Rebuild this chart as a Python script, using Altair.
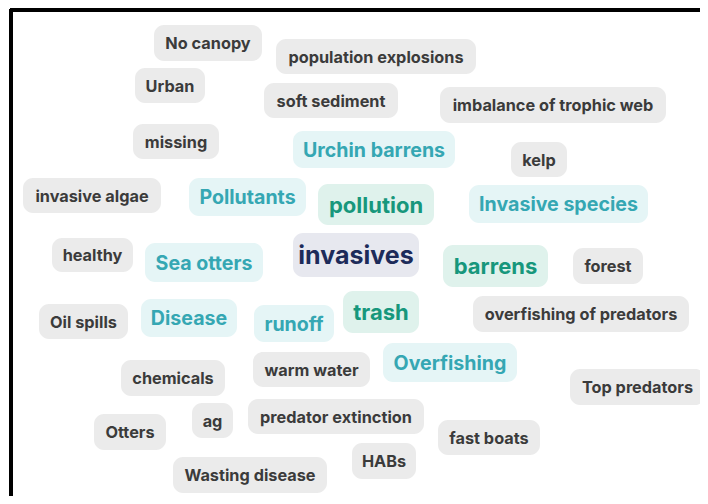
import altair as alt
import pandas as pd

# words and their groups (group = frequency tier)
words = ["No canopy", "population explosions", "Urban", "soft sediment", "imbalance of trophic web",
         "missing", "Urchin barrens", "kelp", "invasive algae", "Pollutants", "pollution",
         "Invasive species", "healthy", "Sea otters", "invasives", "barrens", "forest",
         "Oil spills", "Disease", "runoff", "trash", "overfishing of predators", "chemicals",
         "warm water", "Overfishing", "Top predators", "Otters", "ag", "predator extinction",
         "fast boats", "HABs", "Wasting disease"]
tiers = ["low", "low", "low", "low", "low",
         "low", "mid", "low", "low", "mid", "high",
         "mid", "low", "mid", "top", "high", "low",
         "low", "mid", "mid", "high", "low", "low",
         "low", "mid", "low", "low", "low", "low",
         "low", "low", "low"]

# layout of the cloud (pixel positions of each tag box: left, right, top, bottom)
box_left = [154, 276, 135, 264, 440, 133, 293, 511, 23, 189, 318, 469, 52, 145, 293, 443, 573,
            39, 141, 254, 343, 473, 121, 253, 383, 570, 94, 192, 248, 438, 352, 173]
box_right = [262, 476, 205, 398, 666, 219, 455, 567, 161, 306, 434, 648, 133, 263, 419, 548, 643,
             128, 237, 334, 419, 689, 225, 370, 517, 705, 166, 233, 424, 540, 416, 327]
box_top = [25, 39, 68, 83, 87, 124, 131, 142, 178, 178, 184, 185, 238, 243, 233, 245, 248,
           304, 299, 305, 291, 296, 360, 352, 343, 369, 414, 403, 399, 420, 443, 457]
box_bottom = [61, 74, 103, 118, 123, 159, 168, 177, 213, 216, 225, 223, 272, 282, 277, 287, 284,
              339, 337, 342, 333, 332, 396, 387, 382, 405, 450, 438, 434, 455, 479, 493]

tier_dom = ["low", "mid", "high", "top"]
box_col = ["#ebebeb", "#e5f5f6", "#dff2ec", "#e7e8ef"]
txt_col = ["#3b3b3b", "#35a7b3", "#17977c", "#1d2b5a"]
fsize = {"low": 16.3, "mid": 19.6, "high": 22, "top": 25}

df = pd.DataFrame({"word": words, "tier": tiers, "x0": box_left, "x1": box_right,
                   "y0": box_top, "y1": box_bottom})
df["cx"] = (df["x0"] + df["x1"]) / 2
df["cy"] = (df["y0"] + df["y1"]) / 2
df["fs"] = df["tier"].map(fsize)

W, H = 692, 488
xs = alt.Scale(domain=[8, 8 + W])
ys = alt.Scale(domain=[8, 8 + H], reverse=True)

boxes = alt.Chart(df).mark_rect(cornerRadius=10).encode(
    x=alt.X("x0:Q", scale=xs, axis=None),
    x2="x1:Q",
    y=alt.Y("y0:Q", scale=ys, axis=None),
    y2="y1:Q",
    color=alt.Color("tier:N", scale=alt.Scale(domain=tier_dom, range=box_col), legend=None),
)

texts = alt.Chart(df).mark_text(font="Inter", fontWeight="bold", baseline="middle",
                                align="center", dy=1).encode(
    x=alt.X("cx:Q", scale=xs, axis=None),
    y=alt.Y("cy:Q", scale=ys, axis=None),
    text="word:N",
    color=alt.Color("tier:N", scale=alt.Scale(domain=tier_dom, range=txt_col), legend=None),
    size=alt.Size("fs:Q", scale=None, legend=None),
)

left_rule = alt.Chart(df).mark_rule(color="black", strokeWidth=3).encode(
    x=alt.value(3), y=alt.value(1), y2=alt.value(H))
top_rule = alt.Chart(df).mark_rule(color="black", strokeWidth=3).encode(
    x=alt.value(2), x2=alt.value(W), y=alt.value(2))

chart = alt.layer(left_rule, top_rule, boxes, texts).resolve_scale(color="independent").properties(
    width=W, height=H, padding=0, autosize="none", background="white"
).configure_view(strokeWidth=0, fill="white")

chart.save("out.html", embed_options={"renderer": "svg", "actions": False})
